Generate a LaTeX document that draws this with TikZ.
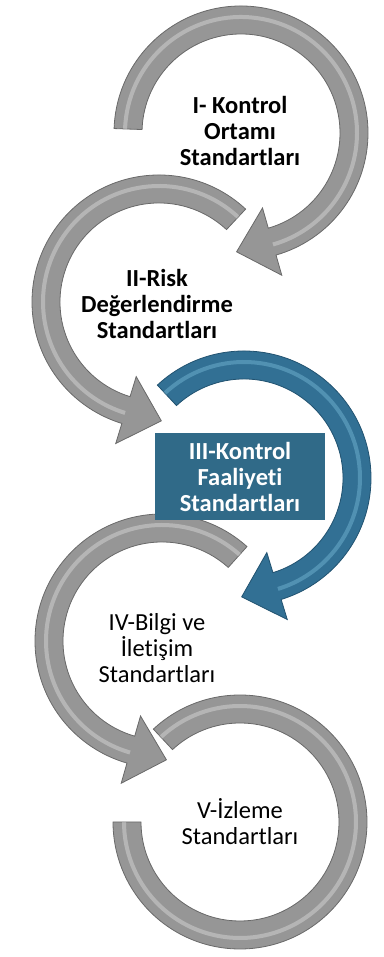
\documentclass[tikz,border=0pt]{standalone}
\usepackage{fontspec}
\setmainfont{Carlito}[Ligatures=NoCommon]
\usepackage{tikz}

\definecolor{ringgray}{RGB}{150,150,150}
\definecolor{ringedge}{RGB}{105,105,105}
\definecolor{ringblue}{RGB}{50,112,148}
\definecolor{blueedge}{RGB}{33,82,112}
\definecolor{boxblue}{RGB}{48,106,136}

\tikzset{
  graybody/.style={fill=ringgray, draw=ringedge, line width=0.8pt},
  bluebody/.style={fill=ringblue, draw=blueedge, line width=0.8pt},
  grayridge/.style={draw=white, opacity=0.3, line width=4pt},
  blueridge/.style={draw=white!60!cyan, opacity=0.3, line width=4pt},
  steptext/.style={align=center, font=\fontsize{24.5}{26}\selectfont},
  boldtext/.style={steptext, font=\fontsize{24.5}{26}\selectfont\bfseries},
}

% #1 centre, #2 start angle, #3 end angle, #4 head turn, #5 body, #6 ridge
\newcommand{\ringarrow}[6]{%
  \begin{scope}[shift={#1}]
    \filldraw[#5] (#2:127) arc[start angle=#2, end angle=#3, radius=127]
      -- (#3:148) -- ([shift={(#3#4:37)}]#3:113) -- (#3:78) -- (#3:99)
      arc[start angle=#3, end angle=#2, radius=99] -- cycle;
    \draw[#6] (#2:116) arc[start angle=#2, end angle=#3, radius=116];
  \end{scope}}

\begin{document}
\begin{tikzpicture}[x=1pt, y=1pt]
    \useasboundingbox (0,0) rectangle (383,957);
    \ringarrow{(241,824)}{178}{-74}{-90}{graybody}{grayridge}
    \ringarrow{(159,655)}{47}{253}{+90}{graybody}{grayridge}
    \ringarrow{(244,479)}{133}{-73}{-90}{bluebody}{blueridge}
    \ringarrow{(162,316)}{48}{254}{+90}{graybody}{grayridge}
    % last ring has no head
    \begin{scope}[shift={(240,135)}]
        \filldraw[graybody] (133:127) arc[start angle=133, end angle=-180, radius=127]
          -- (-180:99) arc[start angle=-180, end angle=133, radius=99] -- cycle;
        \draw[grayridge] (133:116) arc[start angle=133, end angle=-180, radius=116];
    \end{scope}
    \node [boldtext] (kontrol) at (240,826) {I- Kontrol\\Ortamı\\Standartları};
    \node [boldtext] (risk) at (157,653) {II-Risk\\Değerlendirme\\Standartları};
    \node [boldtext, fill=boxblue, text=white, minimum width=170, minimum height=87,
           inner sep=0pt] (faaliyet) at (240,480) {III-Kontrol\\Faaliyeti\\Standartları};
    \node [steptext] (bilgi) at (157,309) {IV-Bilgi ve\\İletişim\\Standartları};
    \node [steptext] (izleme) at (240,135) {V-İzleme\\Standartları};
\end{tikzpicture}
\end{document}
